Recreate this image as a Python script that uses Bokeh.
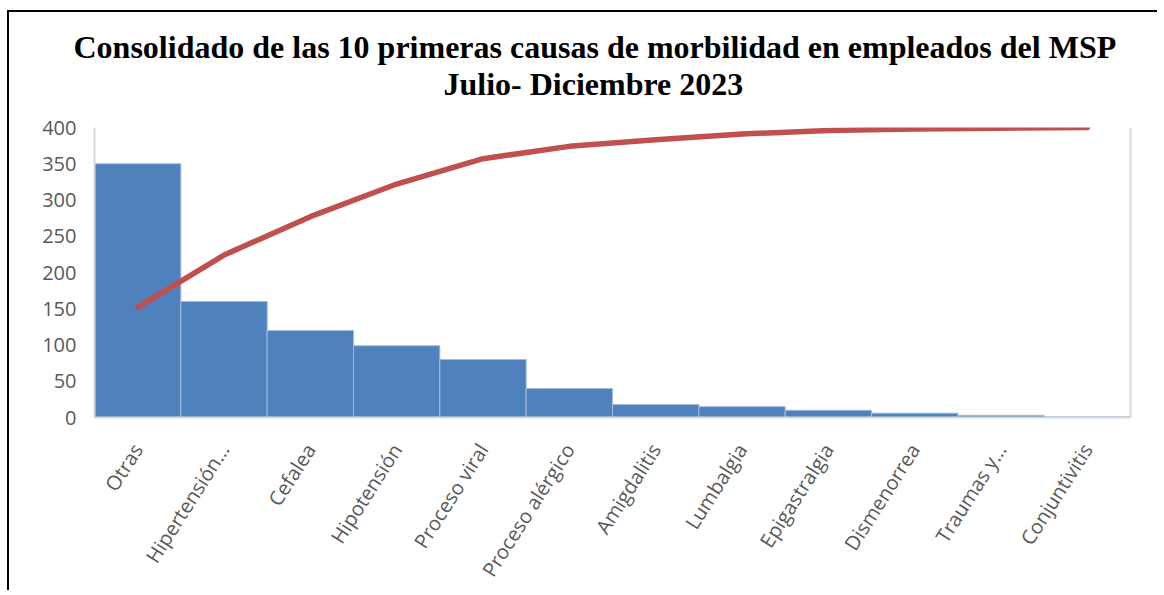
import math
from bokeh.plotting import figure
from bokeh.models import Title, LinearAxis, FixedTicker, ColumnDataSource, Range1d
from bokeh.embed import file_html
from bokeh.resources import INLINE

categories = ["Otras", "Hipertensión…", "Cefalea", "Hipotensión", "Proceso viral",
              "Proceso alérgico", "Amigdalitis", "Lumbalgia", "Epigastralgia",
              "Dismenorrea", "Traumas y…", "Conjuntivitis"]
casos = [350, 160, 120, 99, 80, 40, 18, 15, 10, 6, 3, 1]
acumulado = [152, 224, 277, 322, 357, 374, 383, 391, 396, 398, 399, 400]
y_ticks = [0, 50, 100, 150, 200, 250, 300, 350, 400]
title_line1 = "Consolidado de las 10 primeras causas de morbilidad en empleados del MSP"
title_line2 = "Julio- Diciembre 2023"

src = ColumnDataSource(dict(cat=categories, casos=casos, acum=acumulado))

p = figure(x_range=categories, y_range=Range1d(0, 400), width=1150, height=580,
           output_backend="svg", toolbar_location=None, title=None,
           min_border_left=85, min_border_right=29, min_border_top=115,
           min_border_bottom=175)
p.outline_line_color = None
p.xgrid.visible = False
p.ygrid.visible = False
p.styles = {"margin-left": "7px", "margin-top": "10px",
            "border-top": "2px solid black", "border-left": "2px solid black"}

p.vbar(x="cat", top="casos", width=1.0, source=src, fill_color="#4f81bd",
       line_color="#a3bbdc", line_width=1)
p.line(x="cat", y="acum", source=src, line_color="#c0504d", line_width=5.5,
       line_cap="round", line_join="round")

gray = "#d9d9d9"
label_color = "#595959"

p.yaxis.ticker = FixedTicker(ticks=y_ticks)
p.yaxis.axis_line_color = gray
p.yaxis.axis_line_width = 2
p.yaxis.major_tick_line_color = None
p.yaxis.minor_tick_line_color = None
p.yaxis.major_label_text_font = "Open Sans"
p.yaxis.major_label_text_font_size = "20px"
p.yaxis.major_label_text_color = label_color
p.yaxis.major_label_standoff = 12

p.xaxis.axis_line_color = gray
p.xaxis.axis_line_width = 2
p.xaxis.major_tick_line_color = None
p.xaxis.major_label_text_font = "Open Sans"
p.xaxis.major_label_text_font_size = "20px"
p.xaxis.major_label_text_color = label_color
p.xaxis.major_label_orientation = math.radians(57.5)
p.xaxis.major_label_standoff = 22

right = LinearAxis(ticker=FixedTicker(ticks=[]), axis_line_color=gray, axis_line_width=2,
                   major_tick_line_color=None, minor_tick_line_color=None)
p.add_layout(right, "right")

title_style = dict(align="left", text_font="Liberation Serif", text_font_style="bold",
                   text_font_size="32px", text_color="black")
p.add_layout(Title(text=title_line2, offset=349, standoff=51, **title_style), "above")
p.add_layout(Title(text=title_line1, offset=-21, standoff=-53, **title_style), "above")

open("out.html", "w").write(file_html(p, INLINE))
